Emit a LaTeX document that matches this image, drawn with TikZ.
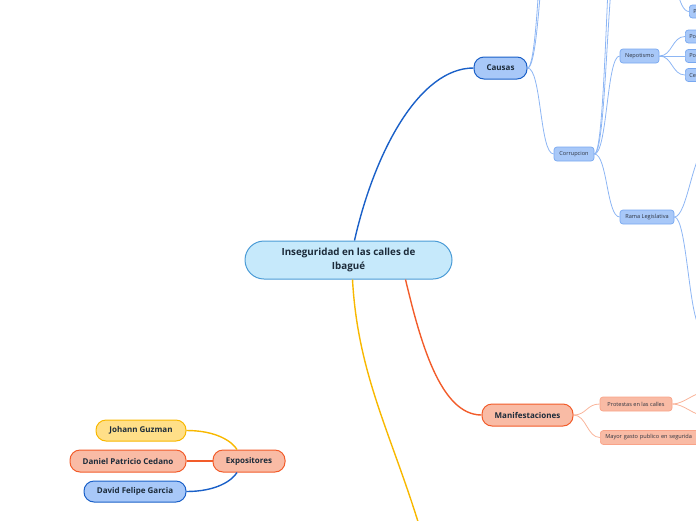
\documentclass[tikz,border=0pt]{standalone}
\usepackage{fontspec}
\setmainfont{Open Sans}
\usepackage{xcolor}
\usetikzlibrary{positioning,calc}
\definecolor{textdark}{HTML}{1C2B3A}
\definecolor{textgrey}{HTML}{2E3440}
\definecolor{centerfill}{HTML}{C6E9FB}
\definecolor{centerline}{HTML}{4A9BD6}
\definecolor{bluefill}{HTML}{A8C8F8}
\definecolor{blueline}{HTML}{1A60C8}
\definecolor{lightblueline}{HTML}{78A8F0}
\definecolor{lightblueedge}{HTML}{8DB6F4}
\definecolor{salmonfill}{HTML}{F9BBA5}
\definecolor{redline}{HTML}{F25C2A}
\definecolor{salmonline}{HTML}{F9A388}
\definecolor{salmonedge}{HTML}{F9B49A}
\definecolor{yellowfill}{HTML}{FFDF88}
\definecolor{yellowline}{HTML}{F8B800}

\begin{document}
\begin{tikzpicture}[x=1pt,y=-1pt,
    topic/.style={draw, rounded corners=10pt, line width=1pt, inner sep=0pt,
        minimum height=22pt, font=\fontsize{8}{9}\selectfont\bfseries, text=textdark},
    leaf/.style={draw, rounded corners=3pt, line width=0.7pt, inner sep=0pt,
        minimum height=14pt, font=\fontsize{5.6}{6}\selectfont, text=textgrey},
    leafcut/.style={leaf, text width=30pt, align=left, inner xsep=4pt, anchor=west},
    mainedge/.style={line width=1.4pt},
    subedge/.style={line width=0.8pt}]
    \useasboundingbox (0,0) rectangle (696,520);
    \clip (0,0) rectangle (696,520);

    % central topic
    \node[draw=centerline, fill=centerfill, line width=1pt, rounded corners=19pt,
        minimum width=207pt, minimum height=38pt, align=center, text=textdark,
        font=\fontsize{9.8}{14.5}\selectfont\bfseries] (ins) at (348.5,260)
        {Inseguridad en las calles de\\Ibagué};

    % Causas branch
    \node[topic, draw=blueline, fill=bluefill, minimum width=53pt] (causas) at (500.5,68) {Causas};
    \node[leaf, draw=lightblueline, fill=bluefill, minimum width=40pt] (corrup) at (574,154) {Corrupcion};
    \node[leaf, draw=lightblueline, fill=bluefill, minimum width=39pt] (nepot) at (639.5,56) {Nepotismo};
    \node[leaf, draw=lightblueline, fill=bluefill, minimum width=54pt] (rama) at (647,217) {Rama Legislativa};
    \node[leafcut, draw=lightblueline, fill=bluefill, minimum height=13pt] (pa) at (689,11.5) {P};
    \node[leafcut, draw=lightblueline, fill=bluefill, minimum height=13pt] (pb) at (685,36.5) {Po};
    \node[leafcut, draw=lightblueline, fill=bluefill, minimum height=13pt] (pc) at (685,56) {Po};
    \node[leafcut, draw=lightblueline, fill=bluefill, minimum height=13pt] (pd) at (685,75) {Ce};
    \coordinate (causasup1) at (556,-120);
    \coordinate (causasup2) at (556,-200);
    \coordinate (corrupup1) at (620,-60);
    \coordinate (corrupup2) at (620,-140);
    \coordinate (paparent) at (665,-30);
    \coordinate (ramaup) at (706,150);
    \coordinate (ramadown) at (702,328);

    % Manifestaciones branch
    \node[topic, draw=redline, fill=salmonfill, minimum width=91pt] (manif) at (527.5,415) {Manifestaciones};
    \node[leaf, draw=salmonline, fill=salmonfill, minimum width=72pt] (prot) at (636,404) {Protestas en las calles};
    \node[leaf, draw=salmonline, fill=salmonfill, text width=130pt, align=left, inner xsep=5pt,
        anchor=west] (gasto) at (600,437.5) {Mayor gasto publico en segurida};
    \coordinate (protup) at (706,392);
    \coordinate (protdown) at (706,416);

    % third branch, below the frame
    \coordinate (yellowsub) at (425,545);

    % Expositores
    \node[topic, draw=redline, fill=salmonfill, minimum width=72pt] (expo) at (249,461) {Expositores};
    \node[topic, draw=yellowline, fill=yellowfill, minimum width=90pt, minimum height=21pt] (johann) at (141,430.5) {Johann Guzman};
    \node[topic, draw=redline, fill=salmonfill, minimum width=116pt] (daniel) at (128,461) {Daniel Patricio Cedano};
    \node[topic, draw=blueline, fill=bluefill, minimum width=102pt, minimum height=21pt] (david) at (135,491.5) {David Felipe Garcia};

    % main connectors
    \draw[mainedge, blueline] ([xshift=6pt]ins.north) .. controls (375,150) and (420,68) .. (causas.west);
    \draw[mainedge, redline] ([xshift=57pt]ins.south) .. controls (420,340) and (440,415) .. (manif.west);
    \draw[mainedge, yellowline] ([xshift=4pt]ins.south) .. controls (358,380) and (395,440) .. (yellowsub);

    % Causas connectors
    \draw[subedge, lightblueedge] (causas.east) .. controls +(14,0) and +(-14,0) .. (causasup1);
    \draw[subedge, lightblueedge] (causas.east) .. controls +(14,0) and +(-14,0) .. (causasup2);
    \draw[subedge, lightblueedge] (causas.east) .. controls +(14,0) and +(-14,0) .. (corrup.west);
    \draw[subedge, lightblueedge] (corrup.east) .. controls +(13,0) and +(-13,0) .. (corrupup1);
    \draw[subedge, lightblueedge] (corrup.east) .. controls +(13,0) and +(-13,0) .. (corrupup2);
    \draw[subedge, lightblueedge] (corrup.east) .. controls +(13,0) and +(-13,0) .. (nepot.west);
    \draw[subedge, lightblueedge] (corrup.east) .. controls +(13,0) and +(-13,0) .. (rama.west);
    \draw[subedge, lightblueedge] (paparent) .. controls +(12,0) and +(-12,0) .. (pa.west);
    \foreach \p in {pb,pc,pd}
        \draw[subedge, lightblueedge] (nepot.east) .. controls +(13,0) and +(-13,0) .. (\p.west);
    \draw[subedge, lightblueedge] (rama.east) .. controls +(13,0) and +(-13,0) .. (ramaup);
    \draw[subedge, lightblueedge] (rama.east) .. controls +(13,0) and +(-13,0) .. (ramadown);

    % Manifestaciones connectors
    \draw[subedge, salmonedge] (manif.east) .. controls +(13,0) and +(-13,0) .. (prot.west);
    \draw[subedge, salmonedge] (manif.east) .. controls +(13,0) and +(-13,0) .. (gasto.west);
    \draw[subedge, salmonedge] (prot.east) .. controls +(12,0) and +(-12,0) .. (protup);
    \draw[subedge, salmonedge] (prot.east) .. controls +(12,0) and +(-12,0) .. (protdown);

    % Expositores connectors
    \draw[mainedge, yellowline] (johann.east) .. controls +(30,0) and +(-5,-8) .. ([xshift=-12pt]expo.north);
    \draw[mainedge, redline] (daniel.east) -- (expo.west);
    \draw[mainedge, blueline] (david.east) .. controls +(30,0) and +(-5,8) .. ([xshift=-12pt]expo.south);
\end{tikzpicture}
\end{document}
